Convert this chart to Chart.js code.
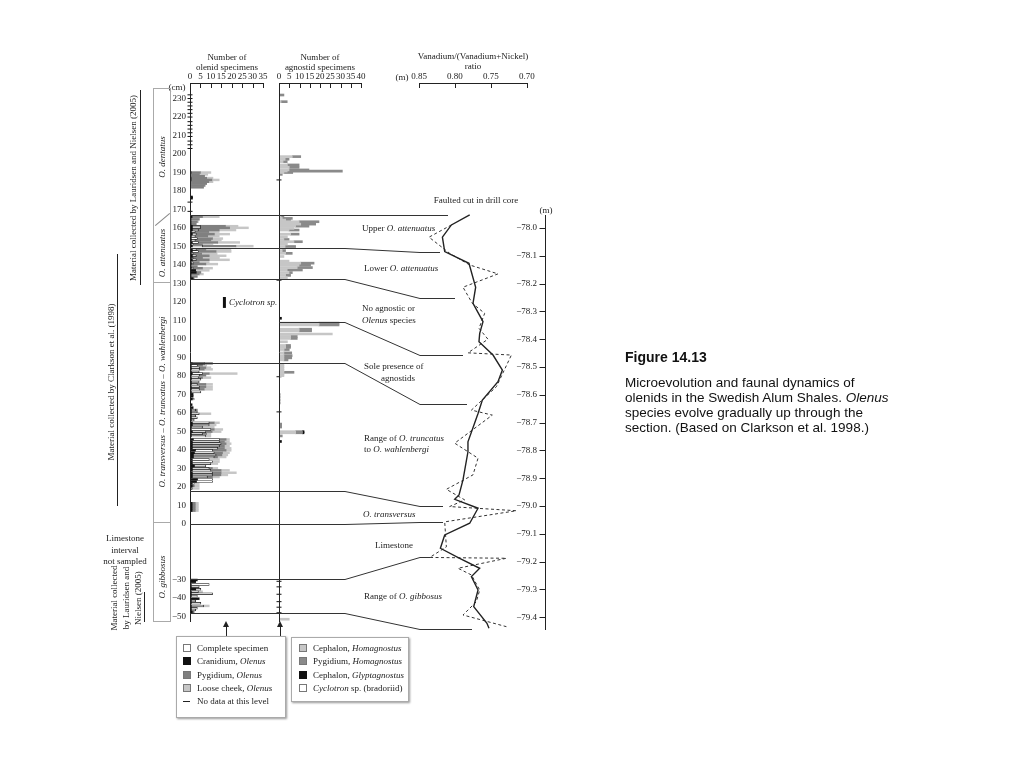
<!DOCTYPE html>
<html>
<head>
<meta charset="utf-8">
<script src="https://cdn.jsdelivr.net/npm/chart.js@4.4.1/dist/chart.umd.min.js"></script>
<style>
  html, body { margin: 0; padding: 0; background: #fff; }
  #page { position: relative; width: 1024px; height: 768px; overflow: hidden; font-family: 'Liberation Serif', serif; color: #222; }
  #page canvas { position: absolute; left: 0; top: 0; }
  .t { position: absolute; font-size: 9px; line-height: 1; white-space: nowrap; }
  .c { transform: translate(-50%, -50%); text-align: center; }
  .l { transform: translateY(-50%); }
  .r { transform: translate(-50%, -50%) rotate(-90deg); text-align: center; }
  .ln { position: absolute; background: #222; }
  .box { position: absolute; border: 1px solid #aaa; box-sizing: border-box; background: #fff; box-shadow: 1px 1px 2px #999; }
  .sq { position: absolute; width: 8px; height: 8px; box-sizing: border-box; border: 1px solid #777; }
  .cap { position: absolute; font-family: 'Liberation Sans', Arial, sans-serif; color: #111; }
</style>
</head>
<body>
<div id="page">
  <canvas id="olenid" width="1024" height="768"></canvas>
  <canvas id="agnostid" width="1024" height="768"></canvas>
  <canvas id="vanadium" width="1024" height="768"></canvas>

  <!-- headers -->
  <div class="t c" style="left:227px;top:57px">Number of</div>
  <div class="t c" style="left:227px;top:67px">olenid specimens</div>
  <div class="t c" style="left:320px;top:57px">Number of</div>
  <div class="t c" style="left:320px;top:67px">agnostid specimens</div>
  <div class="t c" style="left:473px;top:56px">Vanadium/(Vanadium+Nickel)</div>
  <div class="t c" style="left:473px;top:66px">ratio</div>
  <div class="t c" style="left:402px;top:77px">(m)</div>
  <div class="t c" style="left:177px;top:87px">(cm)</div>

  <!-- annotations -->
  <div class="t c" style="left:476px;top:200px">Faulted cut in drill core</div>
  <div class="t c" style="left:546px;top:210px">(m)</div>
  <div class="t l" style="left:362px;top:228px">Upper <i>O. attenuatus</i></div>
  <div class="t l" style="left:364px;top:268px">Lower <i>O. attenuatus</i></div>
  <div class="t l" style="left:362px;top:308px">No agnostic or</div>
  <div class="t l" style="left:362px;top:320px"><i>Olenus</i> species</div>
  <div class="t l" style="left:364px;top:366px">Sole presence of</div>
  <div class="t l" style="left:381px;top:378px">agnostids</div>
  <div class="t l" style="left:364px;top:438px">Range of <i>O. truncatus</i></div>
  <div class="t l" style="left:364px;top:449px">to <i>O. wahlenbergi</i></div>
  <div class="t l" style="left:363px;top:514px"><i>O. transversus</i></div>
  <div class="t l" style="left:375px;top:545px">Limestone</div>
  <div class="t l" style="left:364px;top:596px">Range of <i>O. gibbosus</i></div>
  <div class="t l" style="left:229px;top:302px"><i>Cyclotron sp.</i></div>

  <!-- left side labels -->
  <div class="t r" style="left:133px;top:188px">Material collected by Lauridsen and Nielsen (2005)</div>
  <div class="ln" style="left:140px;top:90px;width:1px;height:195px"></div>
  <div class="t r" style="left:111px;top:382px">Material collected by Clarkson et al. (1998)</div>
  <div class="ln" style="left:117px;top:254px;width:1px;height:252px"></div>
  <div class="t c" style="left:125px;top:550px;line-height:11.5px">Limestone<br>interval<br>not sampled</div>
  <div class="t r" style="left:126px;top:598px;line-height:12px">Material collected<br>by Lauridsen and<br>Nielsen (2005)</div>
  <div class="ln" style="left:144px;top:592px;width:1px;height:30px"></div>

  <div style="position:absolute;left:153px;top:88px;width:18px;height:534px;border:1px solid #aaa;box-sizing:border-box"></div>
  <div style="position:absolute;left:153px;top:282px;width:18px;height:1px;background:#aaa"></div>
  <div style="position:absolute;left:153px;top:522px;width:18px;height:1px;background:#aaa"></div>
  <div style="position:absolute;left:153px;top:219px;width:19px;height:1px;background:#888;transform:rotate(-40deg)"></div>
  <div class="t r" style="left:162px;top:157px"><i>O. dentatus</i></div>
  <div class="t r" style="left:162px;top:253px"><i>O. attenuatus</i></div>
  <div class="t r" style="left:162px;top:402px"><i>O. transversus</i> – <i>O. truncatus</i> – <i>O. wahlenbergi</i></div>
  <div class="t r" style="left:162px;top:577px"><i>O. gibbosus</i></div>

  <!-- legends -->
  <div class="ln" style="left:226px;top:626px;width:1px;height:10px"></div>
  <div style="position:absolute;left:223px;top:621px;width:0;height:0;border-left:3.5px solid transparent;border-right:3.5px solid transparent;border-bottom:6px solid #222"></div>
  <div class="ln" style="left:280px;top:626px;width:1px;height:11px"></div>
  <div style="position:absolute;left:277px;top:621px;width:0;height:0;border-left:3.5px solid transparent;border-right:3.5px solid transparent;border-bottom:6px solid #222"></div>

  <div class="box" style="left:176px;top:636px;width:110px;height:82px"></div>
  <div class="sq" style="left:183px;top:644px;background:#fff"></div>
  <div class="t l" style="left:197px;top:648px">Complete specimen</div>
  <div class="sq" style="left:183px;top:657px;background:#111;border-color:#111"></div>
  <div class="t l" style="left:197px;top:661px">Cranidium, <i>Olenus</i></div>
  <div class="sq" style="left:183px;top:671px;background:#808080"></div>
  <div class="t l" style="left:197px;top:675px">Pygidium, <i>Olenus</i></div>
  <div class="sq" style="left:183px;top:684px;background:#c6c6c6"></div>
  <div class="t l" style="left:197px;top:688px">Loose cheek, <i>Olenus</i></div>
  <div class="ln" style="left:183px;top:701px;width:7px;height:1px"></div>
  <div class="t l" style="left:197px;top:701px">No data at this level</div>

  <div class="box" style="left:291px;top:637px;width:118px;height:65px"></div>
  <div class="sq" style="left:299px;top:644px;background:#c6c6c6"></div>
  <div class="t l" style="left:313px;top:648px">Cephalon, <i>Homagnostus</i></div>
  <div class="sq" style="left:299px;top:657px;background:#8a8a8a"></div>
  <div class="t l" style="left:313px;top:661px">Pygidium, <i>Homagnostus</i></div>
  <div class="sq" style="left:299px;top:671px;background:#111;border-color:#111"></div>
  <div class="t l" style="left:313px;top:675px">Cephalon, <i>Glyptagnostus</i></div>
  <div class="sq" style="left:299px;top:684px;background:#fff"></div>
  <div class="t l" style="left:313px;top:688px"><i>Cyclotron</i> sp. (bradoriid)</div>

  <!-- caption -->
  <div class="cap" style="left:625px;top:349px;font-size:14px;font-weight:bold">Figure 14.13</div>
  <div class="cap" style="left:625px;top:375px;font-size:13.5px;line-height:15px;white-space:nowrap">Microevolution and faunal dynamics of<br>olenids in the Swedish Alum Shales. <i>Olenus</i><br>species evolve gradually up through the<br>section. (Based on Clarkson et al. 1998.)</div>
</div>

<script>
// ---- tick labels ----
const cmTicks = [230, 220, 210, 200, 190, 180, 170, 160, 150, 140, 130, 120, 110, 100, 90, 80, 70, 60, 50, 40, 30, 20, 10, 0, -30, -40, -50];
const olenidTicks = [0, 5, 10, 15, 20, 25, 30, 35];
const agnostidTicks = [0, 5, 10, 15, 20, 25, 30, 35, 40];
const ratioTicks = [0.85, 0.80, 0.75, 0.70];
const depthTicks = [-78.0, -78.1, -78.2, -78.3, -78.4, -78.5, -78.6, -78.7, -78.8, -78.9, -79.0, -79.1, -79.2, -79.3, -79.4];

// ---- olenid specimens (level in cm, counts) ----
const olLevels = [
  190, 189, 188, 187, 186, 185, 184, 183, 182, 176.8, 176.1,
  166.1, 164.7, 163.4, 162.1, 161.0, 160.1, 158.9, 158.0, 156.7, 155.6, 154.3, 153.4, 152.2, 151.1, 150.2,
  148.2, 147.3, 146.1, 145.0, 143.7, 142.8, 141.4, 140.5, 139.2, 138.3, 137.1, 136.0, 135.1, 133.8, 132.7,
  86.8, 85.7, 84.5, 83.6, 82.2, 81.3, 80.4, 79.1, 78.2, 76.8, 75.5, 74.2, 72.8, 71.4, 70.1, 69.0, 67.5, 64.5, 62.9, 61.6, 60.5, 59.6, 58.4, 57.4, 56.2,
  54.7, 53.5, 52.4, 51.1, 49.9, 48.8, 47.5, 45.7, 44.5, 43.4, 42.2, 40.9, 39.8, 38.5, 37.3, 36.2, 34.9, 33.7, 32.6, 31.4, 30.1, 29.0, 27.7, 26.5, 25.4, 24.1, 22.9, 21.8, 20.5, 19.2,
  11.2, 10.2, 9.2, 8.2, 7.2,
  -30.3, -31.2, -32.7, -33.9, -35.3, -36.6, -37.7, -39.0, -40.4, -41.6, -42.9, -44.3, -45.6, -46.5, -47.6
];
const olCranidium = [
  0.5, 0, 0, 0.5, 0.5, 0, 0, 0, 0, 1.2, 1.2,
  1, 0.5, 0.5, 0.5, 1, 1, 1, 0.5, 1, 0.5, 0.5, 0.5, 1, 0.5, 1,
  1, 1, 0.5, 1, 0.5, 1, 0.5, 0.5, 0.5, 0.5, 2.7, 3, 0.5, 0.5, 1.5,
  1, 0.5, 0.5, 0.5, 0.5, 1, 0.5, 0.5, 0.5, 0.5, 0.5, 0.5, 0.5, 0.5, 1.5, 1.5, 1, 1, 1.5, 0.5, 0.5, 0.5, 0.5, 0.5, 0.5,
  1, 1, 0.5, 0.5, 1, 0.5, 0.5, 1.5, 1, 1, 1, 1, 2.5, 2, 1.5, 1.5, 1, 1, 1, 2, 1, 1, 1, 1, 1, 3.5, 3, 1, 1, 0.5,
  1, 1, 1, 1, 1,
  3.5, 2.7, 0.5, 0.5, 2.7, 0.5, 0.5, 0.5, 4.4, 0.5, 0.5, 0.5, 0.5, 0.5, 1
];
const olComplete = [
  0, 0, 0, 0, 0, 0, 0, 0, 0, 0, 0,
  0, 0, 0, 0, 4, 4, 3, 2, 2, 2, 3, 2, 3, 1, 5,
  2, 3, 1, 2, 1, 2, 1, 1, 0, 1, 0, 0, 0, 0, 0,
  6, 3, 4, 4, 3.9, 5, 4, 3.5, 4.7, 3.9, 3, 4, 4, 4.7, 0, 0, 1, 0, 0, 2.2, 3, 3.9, 2.2, 3, 1.5,
  8.2, 8.2, 5.5, 9.5, 6.6, 5.5, 7.1, 12.6, 13.1, 13.9, 13.1, 12.3, 8.3, 9.6, 11, 10.1, 8.2, 9.8, 9, 5.6, 8.2, 9, 9.8, 9.8, 7.4, 7.3, 7.8, 1, 1, 0.6,
  0, 0, 0, 0, 0,
  0, 0, 8.7, 3.9, 2.5, 3.5, 10.3, 3, 0, 2.2, 4.7, 6, 3, 2.2, 1
];
const olPygidium = [
  4.5, 4.5, 7, 7.5, 10, 9, 8, 7, 6.5, 0, 0,
  5, 4, 3, 2.5, 12, 14, 10, 6.5, 8.7, 6, 7.3, 7.5, 9.3, 4.5, 16,
  4.6, 8.5, 4.1, 6.2, 4.5, 6.2, 2.9, 6.1, 3, 4.5, 0, 2.2, 3.9, 3, 0.5,
  3.8, 2.5, 3.1, 2.3, 0, 3.2, 3.1, 2, 0, 0, 4.1, 3.1, 2.3, 0, 0, 0, 0, 0, 0, 0.8, 0, 0, 0, 0, 0,
  2.4, 0, 0, 1.6, 3, 2, 0, 3.2, 2.4, 2.4, 2.4, 3.2, 6.5, 4, 2.8, 1.6, 0, 0, 0, 0, 1.5, 4.9, 4.1, 4, 2.4, 0, 0, 0, 0, 0,
  1.5, 1.5, 1.5, 1.5, 1.5,
  0, 0, 0, 0, 0, 0, 0, 0, 0, 0, 0, 0, 0, 0, 0
];
const olLooseCheek = [
  5, 4, 0, 3, 3.5, 2, 0, 0.5, 0, 0, 0,
  8, 0, 0.5, 0, 6, 9, 8, 5, 7.3, 5.5, 4.9, 5, 10.5, 5, 8.3,
  12, 7.2, 7.4, 8.1, 8.1, 9.7, 4.8, 5.7, 0, 4.8, 6.5, 0, 2, 0, 0,
  0, 2, 2.4, 4, 0, 13.4, 0, 4, 0, 0, 3.2, 3.2, 4, 0, 0, 0, 0, 0, 0, 0, 0, 5.6, 0, 0, 0,
  2.5, 3.3, 5.6, 4.1, 4.3, 2, 2.4, 1.6, 2.4, 2.4, 2.4, 3.2, 2.4, 3.3, 2.8, 4.1, 4.9, 3.3, 3.3, 0, 2.6, 4, 7.3, 3.3, 3.3, 0, 0, 2.4, 2.4, 3.3,
  1.5, 1.5, 1.5, 1.5, 1.5,
  0, 0, 0, 0, 0, 2, 0, 0, 0, 0, 0, 2.7, 0, 0, 0
];
const olNoData = [232, 230, 228, 226, 224, 222, 220, 217.5, 215.5, 213.5, 211.5, 209.5, 207, 205, 203, 174, 169];
const cyclotronRange = [116.8, 122.7];
const cyclotronCount = 16.5;

// ---- agnostid specimens ----
const agLevels = [
  231.9, 228.3, 198.6, 197.2, 195.9, 194.1, 192.8, 191.4, 190.8, 190.0, 189.0,
  166.1, 165.2, 164.3, 163.4, 162.1, 161.0, 159.8, 158.9, 156.7, 155.3, 153.8, 152.6, 151.4, 150.0,
  147.8, 146.3, 144.6, 142.1, 141.0, 139.9, 138.6, 137.3, 135.9, 134.4, 133.1,
  111.2, 108.6, 107.6, 105.3, 104.4, 102.7, 101.4, 100.3, 98.5, 96.5, 95.5, 94.3, 92.5, 91.0, 89.8, 88.7,
  86.0, 85.0, 84.0, 83.0, 82.0, 81.0, 80.2,
  70.0, 68.5, 67.0, 65.5, 54.0, 53.2, 52.4, 49.9, 49.3, 47.6, 44.6, -51.5
];
const agHomCephalon = [
  0, 1, 6.5, 3, 2, 4.1, 5, 4.9, 4, 2.4, 0,
  1, 1.6, 3.25, 9.8, 10.6, 8.1, 7.3, 4.9, 5.7, 4.1, 2.4, 7.3, 4.1, 3,
  1.6, 3.25, 2.4, 4.9, 10.6, 9.8, 8.9, 4, 4.9, 3.25, 4.1,
  0, 19.5, 19.5, 9.8, 9.8, 26, 5.7, 5.7, 4.1, 3.25, 3.25, 2.5, 2.4, 2.4, 2.4, 2.4,
  2.4, 2.4, 2.4, 2.4, 2.4, 2.4, 2.4,
  0.8, 0.8, 0.8, 0.8, 0, 0, 0, 8.1, 8.1, 0, 0, 5
];
const agHomPygidium = [
  2.4, 3, 4.1, 1.9, 2, 5.7, 4.8, 9.7, 26.9, 4.3, 1.6,
  1.4, 4.9, 2.4, 9.7, 7.3, 6.5, 0, 4.9, 4.1, 0, 2.5, 4.1, 0, 5.1,
  1.6, 3.2, 0, 0, 6.5, 5.6, 7.4, 7.4, 1.6, 2.4, 0,
  0, 9.8, 9.8, 6.1, 6.1, 0, 3.2, 3.2, 0, 2.4, 2.4, 2.5, 3.8, 4, 3.8, 2,
  0, 0, 0, 0, 4.9, 0, 0,
  0, 0, 0, 0, 1.3, 1.3, 1.3, 3.3, 3.3, 1.6, 0, 0
];
const agGlyptagnostus = [
  0, 0, 0, 0, 0, 0, 0, 0, 0, 0, 0,
  0, 0, 0, 0, 0, 0, 0, 0, 0, 0, 0, 0, 0, 0,
  0, 0, 0, 0, 0, 0, 0, 0, 0, 0, 0,
  1.2, 0, 0, 0, 0, 0, 0, 0, 0, 0, 0, 0, 0, 0, 0, 0,
  0, 0, 0, 0, 0, 0, 0,
  0, 0, 0, 0, 0, 0, 0, 0.8, 0.8, 0, 1.2, 0
];
const agNoData = [186, 131.8, 79.6, 60.6, -31, -34, -38, -42, -45, -48];

// ---- V/(V+Ni) ratio against depth in drill core (m) ----
const solidRatio = [0.7796, 0.805, 0.8175, 0.8143, 0.7806, 0.7713, 0.775, 0.7611, 0.7657, 0.7667, 0.7472, 0.7342, 0.7403, 0.762, 0.768, 0.782, 0.782, 0.7889, 0.7944, 0.8004, 0.768, 0.7796, 0.8143, 0.8203, 0.7935, 0.7657, 0.7772, 0.768, 0.774, 0.7556, 0.7528];
const solidDepth = [-77.953, -77.989, -78.033, -78.085, -78.127, -78.213, -78.271, -78.337, -78.379, -78.409, -78.457, -78.511, -78.553, -78.619, -78.667, -78.769, -78.805, -78.906, -78.960, -78.976, -79.008, -79.062, -79.104, -79.152, -79.188, -79.224, -79.254, -79.302, -79.362, -79.422, -79.44];
const dashRatio = [0.805, 0.8361, 0.8074, 0.7796, 0.7403, 0.7889, 0.7759, 0.7588, 0.7667, 0.7542, 0.782, 0.7217, 0.7425, 0.7772, 0.7482, 0.8004, 0.768, 0.775, 0.812, 0.7865, 0.8074, 0.7148, 0.8143, 0.812, 0.8351, 0.7286, 0.7958, 0.7772, 0.7657, 0.7703, 0.7889, 0.7286];
const dashDepth = [-77.989, -78.033, -78.091, -78.133, -78.165, -78.213, -78.271, -78.307, -78.361, -78.400, -78.449, -78.457, -78.571, -78.655, -78.673, -78.774, -78.828, -78.888, -78.940, -78.978, -79.002, -79.017, -79.057, -79.147, -79.185, -79.188, -79.224, -79.248, -79.302, -79.344, -79.392, -79.434];

// zone boundaries: level in section (cm) and matching level in core (m)
const zoneCm = [167, 149, 132.5, 109, 87, 18, 0, -30, -48];
const zoneDepth = [-77.953, -78.086, -78.252, -78.457, -78.633, -79.0, -79.058, -79.183, -79.442];

// layout bits (pixels)
const linkKinkA = 345, linkKinkB = 420;
const linkEnd = [448, 440, 455, 463, 467, 443, 443, 430, 472];
const linkFromAgnostid = 3;

Chart.defaults.font.family = "'Liberation Serif', 'Times New Roman', serif";
Chart.defaults.font.size = 9;
Chart.defaults.color = '#222';

// tick marks hanging down from the top axis, plus the axis lines
const axisLines = {
  id: 'axisLines',
  afterDraw(chart, args, opts) {
    const { ctx, chartArea: a } = chart;
    const xs = chart.scales.x, ys = chart.scales.y;
    const px = xs.ticks.map(t => Math.round(xs.getPixelForValue(t.value)) + 0.5);
    ctx.save();
    ctx.strokeStyle = '#222';
    ctx.lineWidth = 1;
    ctx.beginPath();
    ctx.moveTo(Math.min(...px), a.top + 0.5);
    ctx.lineTo(Math.max(...px), a.top + 0.5);
    px.forEach(p => { ctx.moveTo(p, a.top); ctx.lineTo(p, a.top + 5); });
    if (opts.side === 'left') {
      ctx.moveTo(a.left + 0.5, a.top);
      ctx.lineTo(a.left + 0.5, a.bottom);
    } else if (opts.side === 'right') {
      const x = a.right - 0.5;
      ctx.moveTo(x, opts.from);
      ctx.lineTo(x, a.bottom);
      ys.ticks.forEach(t => {
        const p = Math.round(ys.getPixelForValue(t.value)) + 0.5;
        ctx.moveTo(x - 6, p); ctx.lineTo(x, p);
      });
    }
    ctx.stroke();
    ctx.restore();
  }
};

function bars(label, levels, vals, color, stack, extra) {
  const data = [];
  levels.forEach((y, i) => { if (vals[i] > 0) data.push({ x: vals[i], y }); });
  return Object.assign({
    type: 'bar', label, data, indexAxis: 'y', stack,
    backgroundColor: color, borderWidth: 0, barThickness: 1.8
  }, extra || {});
}

function dashes(label, levels) {
  return {
    type: 'scatter', label, data: levels.map(y => ({ x: 0, y })),
    pointStyle: 'line', pointRadius: 2.5, borderColor: '#111', borderWidth: 1, clip: false
  };
}

function cmScale(labelWidth) {
  return {
    type: 'linear', min: -53, max: 238.4, offset: false,
    grid: { display: false, drawTicks: false, offset: false }, border: { display: false },
    afterBuildTicks: s => { s.ticks = cmTicks.map(v => ({ value: v })); },
    afterFit: s => { s.width = labelWidth; },
    ticks: { display: labelWidth > 0, padding: 4, autoSkip: false, callback: v => v < 0 ? '\u2212' + Math.abs(v) : String(v) }
  };
}

function countScale(max, tickList) {
  return {
    type: 'linear', position: 'top', min: 0, max, stacked: true,
    grid: { display: false, drawTicks: false }, border: { display: false },
    afterBuildTicks: s => { s.ticks = tickList.map(v => ({ value: v })); },
    afterFit: s => { s.height = 14; },
    ticks: { padding: 1, autoSkip: false, maxRotation: 0 }
  };
}

const common = {
  responsive: false, animation: false, events: [],
  plugins: { legend: { display: false }, tooltip: { enabled: false } }
};

const chartA = new Chart(document.getElementById('olenid'), {
  data: {
    datasets: [
      bars('Cranidium, Olenus', olLevels, olCranidium, '#111', 'ol'),
      bars('Complete specimen', olLevels, olComplete, '#fff', 'ol', { borderColor: '#111', borderWidth: 0.7, borderSkipped: false }),
      bars('Pygidium, Olenus', olLevels, olPygidium, '#808080', 'ol'),
      bars('Loose cheek, Olenus', olLevels, olLooseCheek, '#c6c6c6', 'ol'),
      dashes('No data at this level', olNoData),
      {
        type: 'scatter', label: 'Cyclotron sp.', showLine: true,
        data: cyclotronRange.map(y => ({ x: cyclotronCount, y })),
        borderColor: '#111', borderWidth: 3, pointRadius: 0
      }
    ]
  },
  options: Object.assign({}, common, {
    layout: { padding: { left: 160, right: 761, top: 69, bottom: 146 } },
    scales: { x: countScale(35, olenidTicks), y: cmScale(30) },
    plugins: Object.assign({}, common.plugins, { axisLines: { side: 'left' } })
  }),
  plugins: [axisLines]
});

const chartB = new Chart(document.getElementById('agnostid'), {
  data: {
    datasets: [
      bars('Cephalon, Homagnostus', agLevels, agHomCephalon, '#c6c6c6', 'ag', { barThickness: 2 }),
      bars('Pygidium, Homagnostus', agLevels, agHomPygidium, '#8a8a8a', 'ag', { barThickness: 2 }),
      bars('Cephalon, Glyptagnostus', agLevels, agGlyptagnostus, '#111', 'ag', { barThickness: 2 }),
      dashes('No data at this level', agNoData)
    ]
  },
  options: Object.assign({}, common, {
    layout: { padding: { left: 279, right: 663, top: 69, bottom: 146 } },
    scales: { x: countScale(40, agnostidTicks), y: cmScale(0) },
    plugins: Object.assign({}, common.plugins, { axisLines: { side: 'left' } })
  }),
  plugins: [axisLines]
});

// lines joining zone boundaries in the section to levels in the core
const zoneLinks = {
  id: 'zoneLinks',
  afterDraw(chart) {
    const ctx = chart.ctx, yA = chartA.scales.y, yC = chart.scales.y;
    ctx.save();
    ctx.strokeStyle = '#333';
    ctx.lineWidth = 1;
    ctx.beginPath();
    zoneCm.forEach((cm, i) => {
      const y0 = Math.round(yA.getPixelForValue(cm)) + 0.5;
      const y1 = Math.round(yC.getPixelForValue(zoneDepth[i])) + 0.5;
      const x0 = i === linkFromAgnostid ? chartB.chartArea.left : chartA.chartArea.left;
      ctx.moveTo(x0, y0);
      ctx.lineTo(linkKinkA, y0);
      ctx.lineTo(linkKinkB, y1);
      ctx.lineTo(linkEnd[i], y1);
    });
    ctx.stroke();
    ctx.restore();
  }
};

new Chart(document.getElementById('vanadium'), {
  type: 'scatter',
  data: {
    datasets: [
      {
        label: 'solid', showLine: true, pointRadius: 0,
        data: solidRatio.map((x, i) => ({ x, y: solidDepth[i] })),
        borderColor: '#222', borderWidth: 1.4
      },
      {
        label: 'dashed', showLine: true, pointRadius: 0,
        data: dashRatio.map((x, i) => ({ x, y: dashDepth[i] })),
        borderColor: '#333', borderWidth: 1, borderDash: [3, 2.5]
      }
    ]
  },
  options: Object.assign({}, common, {
    layout: { padding: { left: 419, right: 478, top: 69, bottom: 138 } },
    scales: {
      x: {
        type: 'linear', position: 'top', reverse: true, min: 0.67361, max: 0.85,
        grid: { display: false, drawTicks: false }, border: { display: false },
        afterBuildTicks: s => { s.ticks = ratioTicks.map(v => ({ value: v })); },
        afterFit: s => { s.height = 14; },
        ticks: { padding: 1, autoSkip: false, maxRotation: 0, callback: v => v.toFixed(2) }
      },
      y: {
        type: 'linear', position: 'right', min: -79.446, max: -77.4784,
        grid: { display: false, drawTicks: false }, border: { display: false },
        afterBuildTicks: s => { s.ticks = depthTicks.map(v => ({ value: v })); },
        afterFit: s => { s.width = 0; },
        ticks: { mirror: true, padding: -9, autoSkip: false, callback: v => '\u2212' + Math.abs(v).toFixed(1) }
      }
    },
    plugins: Object.assign({}, common.plugins, { axisLines: { side: 'right', from: 215 } })
  }),
  plugins: [axisLines, zoneLinks]
});
</script>
</body>
</html>
